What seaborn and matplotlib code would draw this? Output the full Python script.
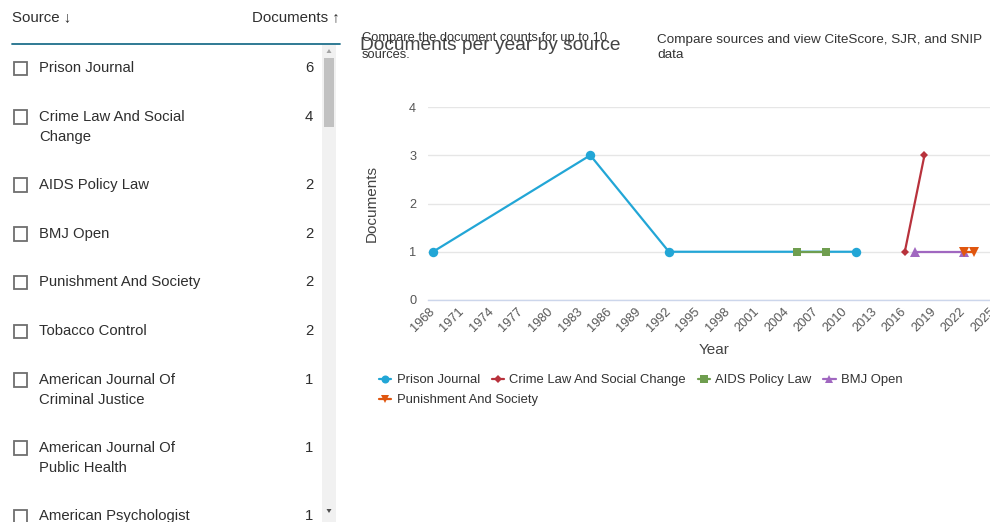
import pandas as pd
import matplotlib
matplotlib.use("Agg")
import matplotlib.pyplot as plt
from matplotlib.lines import Line2D
from matplotlib.patches import Rectangle, Polygon
import seaborn as sns

# series shown in the chart
sources = ["Prison Journal", "Crime Law And Social Change", "AIDS Policy Law",
           "BMJ Open", "Punishment And Society"]
prison_years = [1968, 1984, 1992, 2011]
prison_docs = [1, 3, 1, 1]
crime_years = [2016, 2018]
crime_docs = [1, 3]
aids_years = [2005, 2008]
aids_docs = [1, 1]
bmj_years = [2017, 2022]
bmj_docs = [1, 1]
punish_years = [2022, 2023]
punish_docs = [1, 1]

# source list on the left
list_sources = ["Prison Journal", "Crime Law And Social\nChange", "AIDS Policy Law",
                "BMJ Open", "Punishment And Society", "Tobacco Control",
                "American Journal Of\nCriminal Justice", "American Journal Of\nPublic Health",
                "American Psychologist"]
list_counts = [6, 4, 2, 2, 2, 2, 1, 1, 1]

year_ticks = list(range(1968, 2026, 3))
doc_ticks = [0, 1, 2, 3, 4]

colors = ["#22a6d6", "#b8323c", "#6f9e4f", "#a067c0", "#e0560f"]
markers = ["o", "D", "s", "^", "v"]
msizes = [6.8, 4.5, 6.0, 6.5, 6.5]

W, H = 990, 522


def fx(x):
    return x / W


def fy(y):
    return 1 - y / H


sns.set_theme(style="white")
plt.rcParams["font.family"] = ["Liberation Sans", "DejaVu Sans"]

df = pd.concat([
    pd.DataFrame({"Year": y, "Documents": d, "source": s})
    for s, y, d in zip(sources,
                       [prison_years, crime_years, aids_years, bmj_years, punish_years],
                       [prison_docs, crime_docs, aids_docs, bmj_docs, punish_docs])
])

fig = plt.figure(figsize=(9.9, 5.22), dpi=100)
ax = fig.add_axes([fx(428), 222 / H, 575 / W, 193 / H])

for s, c, m, ms in zip(sources, colors, markers, msizes):
    sns.lineplot(data=df[df["source"] == s], x="Year", y="Documents", ax=ax,
                 color=c, marker=m, markersize=ms, markeredgewidth=0,
                 linewidth=1.6, errorbar=None, legend=False, clip_on=False)

ax.set_xlim(1967.49, 2025.99)
ax.set_ylim(0, 4)
ax.set_xticks(year_ticks)
ax.set_yticks(doc_ticks)
ax.grid(axis="y", color="#e6e6e6", linewidth=1)
ax.grid(axis="x", visible=False)
for sp in ["top", "right", "left"]:
    ax.spines[sp].set_visible(False)
ax.spines["bottom"].set_color("#ccd6eb")
ax.spines["bottom"].set_linewidth(1)
ax.tick_params(axis="both", length=0, colors="#555555", labelsize=9.2)
ax.tick_params(axis="y", pad=8.5)
ax.tick_params(axis="x", pad=7)
for lab in ax.get_xticklabels():
    lab.set_rotation(45)
    lab.set_rotation_mode("anchor")
    lab.set_ha("right")
    lab.set_va("center")
ax.set_xlabel("")
ax.set_ylabel("")
fig.text(fx(372), fy(203), "Documents", rotation=90, ha="center", va="center",
         fontsize=11, color="#444444")
fig.text(fx(714), fy(350), "Year", ha="center", va="center", fontsize=11, color="#444444")

# titles
fig.text(fx(360), fy(46), "Documents per year by source", ha="left", va="center",
         fontsize=13.8, color="#444444")
fig.text(fx(362), fy(38), "Compare the document counts for up to 10", ha="left",
         va="center", fontsize=9.3, color="#333333")
fig.text(fx(362), fy(55), "sources.", ha="left", va="center", fontsize=9.3, color="#333333")
fig.text(fx(657), fy(40), "Compare sources and view CiteScore, SJR, and SNIP", ha="left",
         va="center", fontsize=9.7, color="#333333")
fig.text(fx(657), fy(55), "data", ha="left", va="center", fontsize=9.7, color="#333333")

# legend
handles = [Line2D([], [], color=c, marker=m, markersize=ms * 0.85, markeredgewidth=0,
                  linewidth=1.6) for c, m, ms in zip(colors, markers, msizes)]
leg_kw = dict(frameon=False, fontsize=9.4, handlelength=0.95, handletextpad=0.4,
              columnspacing=0.9, borderpad=0, borderaxespad=0, labelcolor="#333333")
fig.legend(handles[:4], sources[:4], loc="center left", ncol=4,
           bbox_to_anchor=(fx(379), fy(380)), **leg_kw)
fig.legend(handles[4:], sources[4:], loc="center left", ncol=1,
           bbox_to_anchor=(fx(379), fy(400)), **leg_kw)

# left list panel
txt = "#2e2e2e"
fig.text(fx(12), fy(17), "Source \u2193", ha="left", va="center", fontsize=10.8, color=txt)
fig.text(fx(340), fy(17), "Documents \u2191", ha="right", va="center", fontsize=10.8, color=txt)
fig.add_artist(Line2D([fx(12), fx(340)], [fy(44), fy(44)], color="#1f6f8b", linewidth=1.3))

fig.add_artist(Rectangle((fx(322), 0), 14 / W, fy(45), color="#f1f1f1", lw=0))
fig.add_artist(Rectangle((fx(324), fy(127)), 10 / W, 69 / H, color="#c1c1c1", lw=0))
fig.add_artist(Polygon([[fx(326.5), fy(53)], [fx(331.5), fy(53)], [fx(329), fy(49)]],
                       closed=True, color="#a3a3a3", lw=0))
fig.add_artist(Polygon([[fx(326.5), fy(509)], [fx(331.5), fy(509)], [fx(329), fy(513)]],
                       closed=True, color="#505050", lw=0))

row_y = 68
for name, cnt in zip(list_sources, list_counts):
    lines = name.split("\n")
    fig.add_artist(Rectangle((fx(13.5), fy(row_y + 7)), 13.5 / W, 13.5 / H, fill=False,
                             edgecolor="#6e6e6e", linewidth=1.3))
    for i, ln in enumerate(lines):
        fig.text(fx(39), fy(row_y + 20 * i), ln, ha="left", va="center",
                 fontsize=10.7, color=txt)
    fig.text(fx(313), fy(row_y), str(cnt), ha="right", va="center", fontsize=10.7, color=txt)
    row_y += 48.7 + 19.5 * (len(lines) - 1)

fig.savefig("out.png", dpi=100)
